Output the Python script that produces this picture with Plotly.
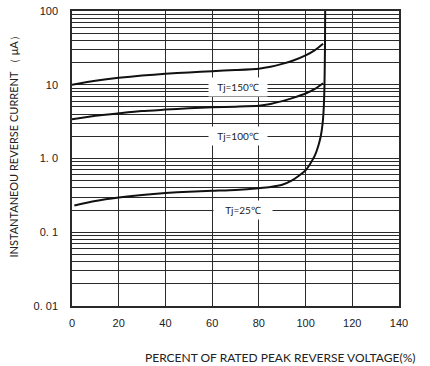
import math
import plotly.graph_objects as go

# ---- data ----
x_150 = [0, 10, 20, 30, 40, 50, 60, 70, 80, 85, 90, 95, 100, 104, 107.5]
y_150 = [10, 11.3, 12.4, 13.3, 14.1, 14.7, 15.3, 15.8, 16.5, 17.5, 19.2, 21.5, 25, 29.5, 36]

x_100 = [0, 10, 20, 30, 40, 50, 60, 70, 80, 85, 90, 95, 100, 104, 107.5]
y_100 = [3.4, 3.8, 4.1, 4.4, 4.6, 4.8, 4.95, 5.05, 5.2, 5.5, 6.0, 6.7, 7.6, 8.8, 10.5]

x_25 = [1, 10, 20, 30, 40, 50, 60, 70, 80, 85, 90, 94, 97, 100, 102, 104,
        105.5, 106.5, 107.3, 107.8, 108.1, 108.3, 108.4]
y_25 = [0.23, 0.265, 0.295, 0.32, 0.34, 0.355, 0.365, 0.375, 0.395, 0.41, 0.44,
        0.5, 0.58, 0.69, 0.85, 1.1, 1.5, 2.0, 3.0, 5, 10, 30, 100]

x_ticks = [0, 20, 40, 60, 80, 100, 120, 140]
y_tickvals = [0.01, 0.1, 1, 10, 100]
y_ticktext = ["0. 01", "0. 1", "1. 0", "10", "100"]

labels = ["Tj=150℃", "Tj=100℃", "Tj=25℃"]
label_x = [71, 71, 73]
label_y = [9.3, 2.0, 0.2]

GRID = "#2a2a2a"

fig = go.Figure()
for xs, ys in [(x_150, y_150), (x_100, y_100), (x_25, y_25)]:
    fig.add_trace(go.Scatter(x=xs, y=ys, mode="lines",
                             line=dict(color="#111111", width=2, shape="spline", smoothing=0.6),
                             showlegend=False, hoverinfo="skip"))

for t, lx, ly in zip(labels, label_x, label_y):
    fig.add_annotation(x=lx, y=math.log10(ly), yref="y", xref="x", text=t, showarrow=False,
                       bgcolor="white", font=dict(family="Lato", size=10, color="#222"),
                       borderpad=3, width=52)

fig.add_annotation(text="INSTANTANEOU REVERSE CURRENT （ μA）", xref="paper", yref="paper",
                   x=-0.178, y=0.55, textangle=-90, showarrow=False,
                   font=dict(family="Lato", size=11, color="#222"), xanchor="center", yanchor="middle")
fig.add_annotation(text="PERCENT OF RATED PEAK REVERSE VOLTAGE(%)", xref="paper", yref="paper",
                   x=0.636, y=-0.176, showarrow=False,
                   font=dict(family="Lato", size=12, color="#222"), xanchor="center", yanchor="middle")

fig.update_layout(
    width=430, height=366,
    margin=dict(l=72, r=31, t=11, b=60),
    paper_bgcolor="white", plot_bgcolor="white",
    xaxis=dict(range=[0, 140], tickvals=x_ticks, showgrid=True, gridcolor=GRID, gridwidth=1,
               showline=True, linecolor=GRID, linewidth=1.5, mirror=True, zeroline=False,
               ticks="", tickfont=dict(family="Liberation Sans", size=11, color="#222"),
               ticklabelstandoff=6, automargin=False),
    yaxis=dict(type="log", range=[-2, 2], tickvals=y_tickvals, ticktext=y_ticktext,
               showgrid=True, gridcolor=GRID, gridwidth=1,
               minor=dict(showgrid=True, dtick="D1", gridcolor=GRID, gridwidth=1),
               showline=True, linecolor=GRID, linewidth=1.5, mirror=True, zeroline=False,
               ticks="", tickfont=dict(family="Liberation Sans", size=11, color="#222"),
               ticklabelstandoff=10, automargin=False),
)

fig.write_html("out.html", config={"displayModeBar": False},
               post_script="document.body.style.margin='0';document.body.style.padding='0';document.body.style.overflow='hidden';")
